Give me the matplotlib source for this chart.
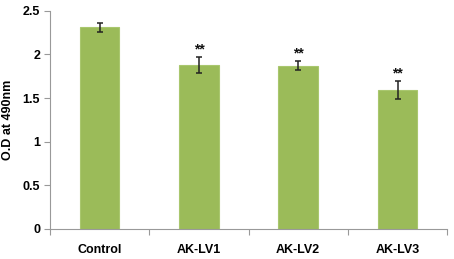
import matplotlib
matplotlib.use("Agg")
import matplotlib.pyplot as plt
import numpy as np

categories = ["Control", "AK-LV1", "AK-LV2", "AK-LV3"]
values = [2.31, 1.88, 1.87, 1.59]
errors = [0.05, 0.09, 0.05, 0.105]
marks = ["", "**", "**", "**"]

plt.rcParams['font.family'] = ['Liberation Sans', 'DejaVu Sans']
fig = plt.figure(figsize=(4.54, 2.59), dpi=100)
ax = fig.add_axes([0.110, 0.116, 0.875, 0.842])

x = np.arange(len(categories))
ax.bar(x, values, width=0.4, color='#9BBB59', edgecolor='#A9C76E', linewidth=0.8, zorder=2)
ax.errorbar(x, values, yerr=errors, fmt='none', ecolor='#222222', elinewidth=1.1,
            capsize=2.5, capthick=1.1, zorder=3)
for xi, v, e, m in zip(x, values, errors, marks):
    if m:
        ax.text(xi, v + e + 0.01, m, ha='center', va='bottom', fontsize=10,
                fontweight='bold', color='#111111')

ax.set_xlim(-0.5, len(categories) - 0.5)
ax.set_ylim(0, 2.5)
ax.set_yticks([0, 0.5, 1, 1.5, 2, 2.5])
ax.set_yticklabels(["0", "0.5", "1", "1.5", "2", "2.5"])
ax.set_xticks(x)
ax.set_xticklabels(categories)
ax.set_xticks(np.arange(len(categories) + 1) - 0.5, minor=True)
ax.tick_params(axis='x', which='major', length=0, pad=11, labelsize=9)
ax.tick_params(axis='x', which='minor', length=4, color='#999999', width=0.8)
ax.tick_params(axis='y', length=4, color='#999999', width=0.8, labelsize=9, pad=3)
for lab in ax.get_xticklabels() + ax.get_yticklabels():
    lab.set_fontweight('bold')

for s in ['top', 'right']:
    ax.spines[s].set_visible(False)
for s in ['left', 'bottom']:
    ax.spines[s].set_color('#999999')
    ax.spines[s].set_linewidth(0.8)

ax.set_ylabel("O.D at 490nm", fontsize=9, fontweight='bold', labelpad=6)

fig.savefig("out.png", dpi=100)
